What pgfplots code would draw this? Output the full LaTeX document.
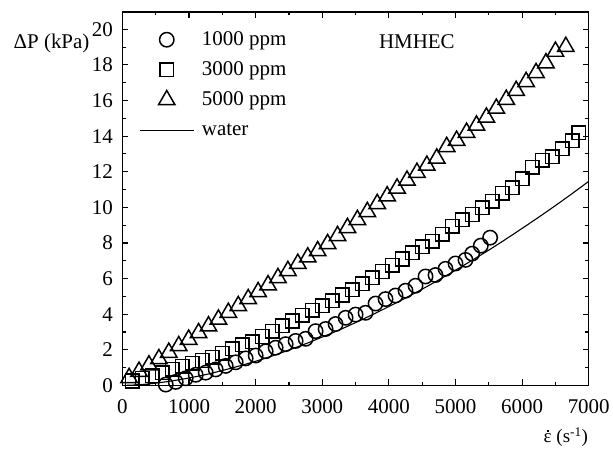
\documentclass[border=0pt]{standalone}
\usepackage{fontspec}
\setmainfont{Liberation Serif}
\usepackage{pgfplots}
\pgfplotsset{compat=1.18}
\newcommand{\bigf}{\fontsize{21}{25}\selectfont}
\pgfplotsset{
 mlegend/.style={legend image code/.code={\path[draw=none] (0pt,0pt) -- (55pt,0pt); \draw[##1, only marks] plot coordinates {(27.3pt,0pt)};}},
 llegend/.style={legend image code/.code={\draw[##1] (0pt,0pt) -- (55pt,0pt);}},
}
\begin{document}
\begin{tikzpicture}
\path (-122.7pt,-68.7pt) rectangle (490.3pt,386.3pt);
\begin{axis}[
  scale only axis, width=467.3pt, height=374.3pt,
  at={(0,0)}, anchor=origin,
  xmin=0, xmax=7000, ymin=0, ymax=20.97,
  clip mode=individual,
  xtick={0,1000,...,7000}, ytick={0,2,...,20},
  minor x tick num=1, minor y tick num=1,
  tick align=inside, xtick pos=both, ytick pos=both,
  major tick length=6pt, minor tick length=3.5pt,
  axis line style={line width=1.2pt}, every tick/.style={line width=1.1pt, black},
  /pgf/number format/assume math mode=true,
  /pgf/number format/1000 sep={},
  tick label style={font=\bigf},
  xticklabel style={yshift=-11pt},
  yticklabel style={xshift=-6pt},
  legend style={draw=none, fill=none, font=\bigf, at={(axis description cs:0.035,0.957)}, anchor=north west, inner sep=0pt, row sep=7.2pt, column sep=5pt, nodes={inner sep=2pt, text height=15pt, text depth=4pt}},
  legend cell align=left,
]
\addplot[only marks, mark=o, mark size=7.2pt, line width=1.5pt, black, mlegend]
 coordinates {
(650,0.05) (800,0.2) (950,0.4) (1100,0.6) (1250,0.72) (1400,0.9) (1550,1.1) (1700,1.3) (1850,1.52) (2000,1.68)
(2150,1.92) (2300,2.12) (2450,2.32) (2600,2.5) (2750,2.62) (2900,3.05) (3050,3.17) (3200,3.45) (3350,3.8) (3500,3.98)
(3650,4.08) (3800,4.6) (3950,4.85) (4100,5.05) (4250,5.32) (4400,5.6) (4550,6.12) (4700,6.2) (4850,6.55) (5000,6.85)
(5150,7.05) (5250,7.4) (5380,7.85) (5520,8.3)
};
\addlegendentry{1000 ppm}
\addplot[only marks, mark=square, mark size=6.8pt, line width=1.5pt, black, mlegend]
 coordinates {
(150,0.25) (300,0.4) (450,0.55) (600,0.72) (750,0.9) (900,1.08) (1050,1.25) (1200,1.4) (1350,1.58) (1500,1.8)
(1650,2.05) (1800,2.28) (1950,2.45) (2100,2.75) (2250,3.05) (2400,3.35) (2550,3.62) (2700,3.95) (2850,4.22) (3000,4.48)
(3150,4.75) (3300,5.08) (3450,5.38) (3600,5.7) (3750,6.05) (3900,6.4) (4050,6.75) (4200,7.1) (4350,7.45) (4500,7.78)
(4650,8.1) (4800,8.5) (4950,8.94) (5100,9.3) (5250,9.6) (5400,9.97) (5550,10.35) (5700,10.8) (5850,11.1) (6000,11.6)
(6150,12.25) (6300,12.65) (6450,12.85) (6600,13.3) (6750,13.75) (6850,14.2)
};
\addlegendentry{3000 ppm}
\addplot[only marks, mark=triangle, mark size=9.5pt, line width=1.5pt, black, mlegend]
 coordinates {
(100,0.43) (249,0.78) (398,1.14) (547,1.49) (696,1.85) (845,2.22) (994,2.58) (1143,2.95) (1292,3.33) (1441,3.71)
(1590,4.09) (1739,4.47) (1888,4.86) (2037,5.25) (2186,5.64) (2335,6.04) (2484,6.44) (2633,6.84) (2782,7.2) (2931,7.55)
(3080,7.95) (3229,8.4) (3378,8.85) (3527,9.3) (3676,9.75) (3825,10.2) (3974,10.63) (4123,11.07) (4272,11.51) (4421,11.95)
(4570,12.35) (4719,12.75) (4868,13.4) (5017,13.75) (5166,14.2) (5315,14.6) (5464,15.05) (5613,15.55) (5762,16.05) (5911,16.55)
(6060,17.05) (6209,17.55) (6358,18.1) (6500,18.75) (6656,19.02)
};
\addlegendentry{5000 ppm}
\addplot[black, line width=1.1pt, smooth, llegend]
 coordinates {
(0,0) (250,0.04) (500,0.13) (750,0.26) (1000,0.42) (1250,0.61) (1500,0.84) (1750,1.09) (2000,1.36) (2250,1.66)
(2500,1.99) (2750,2.34) (3000,2.72) (3250,3.11) (3500,3.53) (3750,3.97) (4000,4.43) (4250,4.91) (4500,5.41) (4750,5.93)
(5000,6.47) (5250,7.03) (5500,7.60) (5750,8.20) (6000,8.82) (6250,9.45) (6500,10.10) (6750,10.77) (7000,11.46)
};
\addlegendentry{water}
\node[font=\bigf] at (axis cs:4420,19.3) {HMHEC};
\node[font=\bigf] at (axis description cs:-0.152,0.917) {ΔP (kPa)};
\node[font=\fontsize{19}{22}\selectfont] at (axis description cs:0.951,-0.138) {{\ooalign{ε\cr\hidewidth\raisebox{0.56em}{\rule{1.7pt}{1.7pt}}\hidewidth\cr}} (s\textsuperscript{-1})};
\end{axis}
\end{tikzpicture}
\end{document}
